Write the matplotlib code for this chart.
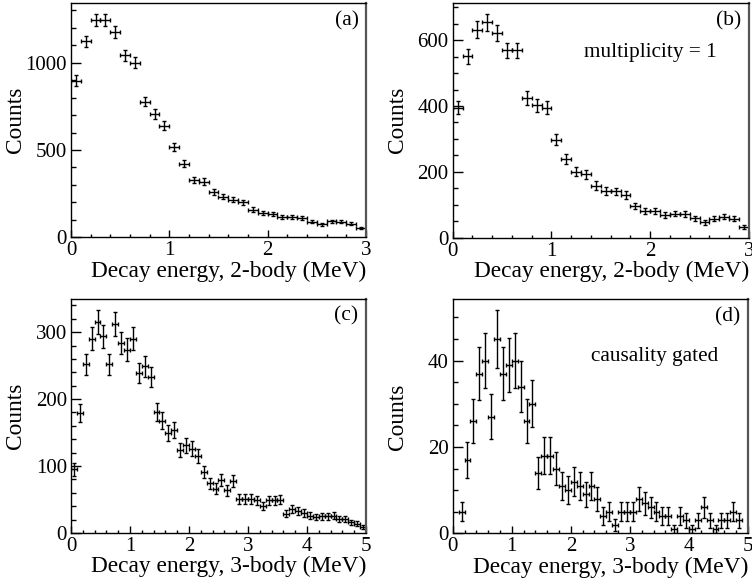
import numpy as np
import matplotlib
matplotlib.use("Agg")
import matplotlib.pyplot as plt
from matplotlib.ticker import MultipleLocator

plt.rcParams['font.family'] = ['Liberation Serif', 'DejaVu Serif']

# ---- data (counts per 0.1 MeV bin) ----
bin_width = 0.1

counts_a = [897, 1122, 1244, 1244, 1177, 1042, 1000, 777, 706, 639,
            515, 422, 328, 319, 258, 233, 214, 200, 158, 141,
            132, 115, 118, 109, 90, 74, 92, 90, 78, 53]

counts_b = [395, 551, 632, 655, 622, 569, 569, 425, 402, 394,
            298, 238, 200, 192, 158, 141, 140, 129, 95, 80,
            81, 68, 73, 72, 58, 46, 57, 63, 57, 33]

counts_c = [95, 179, 252, 290, 315, 294, 252, 312, 284, 274,
            290, 239, 249, 233, 181, 168, 149, 154, 124, 131,
            126, 115, 91, 74, 66, 79, 64, 78, 51, 51,
            51, 49, 40, 49, 49, 50, 29, 36, 33, 30,
            26, 24, 25, 25, 26, 21, 21, 16, 14, 9]

counts_d = [0, 5, 17, 26, 37, 40, 27, 45, 37, 39,
            40, 34, 26, 30, 14, 18, 18, 15, 11, 10,
            12, 11, 9, 11, 8, 4, 5, 2, 5, 5,
            5, 8, 7, 6, 5, 4, 4, 1, 4, 3,
            1, 3, 6, 3, 1, 3, 3, 5, 3, 0]

panel_labels = ["(a)", "(b)", "(c)", "(d)"]
xlabels = ["Decay energy, 2-body (MeV)", "Decay energy, 2-body (MeV)",
           "Decay energy, 3-body (MeV)", "Decay energy, 3-body (MeV)"]
ylabel = "Counts"
notes = {1: "multiplicity = 1", 3: "causality gated"}

panels = [
    dict(counts=counts_a, xmax=3, ymax=1342, ymaj=500, ymin=100),
    dict(counts=counts_b, xmax=3, ymax=713, ymaj=200, ymin=50),
    dict(counts=counts_c, xmax=5, ymax=350, ymaj=100, ymin=20),
    dict(counts=counts_d, xmax=5, ymax=54.2, ymaj=20, ymin=5),
]

positions = [
    [0.0944, 0.5909, 0.3923, 0.4040],
    [0.6020, 0.5905, 0.3940, 0.4043],
    [0.0944, 0.0810, 0.3923, 0.4041],
    [0.6020, 0.0805, 0.3927, 0.4034],
]
note_pos = {1: (0.443, 0.771), 3: (0.468, 0.738)}

fig = plt.figure(figsize=(7.52, 5.80), dpi=100)

for i, p in enumerate(panels):
    ax = fig.add_axes(positions[i])
    c = np.asarray(p["counts"], dtype=float)
    x = (np.arange(len(c)) + 0.5) * bin_width
    keep = c > 0
    ax.errorbar(x[keep], c[keep], xerr=bin_width / 2, yerr=np.sqrt(c[keep]),
                fmt='none', ecolor='black', elinewidth=1.0,
                capsize=1.2, capthick=1.0)
    ax.set_xlim(0, p["xmax"])
    ax.set_ylim(0, p["ymax"])
    ax.xaxis.set_major_locator(MultipleLocator(1))
    ax.xaxis.set_minor_locator(MultipleLocator(0.2))
    ax.yaxis.set_major_locator(MultipleLocator(p["ymaj"]))
    ax.yaxis.set_minor_locator(MultipleLocator(p["ymin"]))
    ax.tick_params(axis='both', which='both', direction='in',
                   top=False, right=False, labelsize=15, width=1.0)
    ax.tick_params(axis='y', which='major', length=7, pad=3)
    ax.tick_params(axis='y', which='minor', length=3.6)
    ax.tick_params(axis='x', which='major', length=5, pad=3)
    ax.tick_params(axis='x', which='minor', length=2.5)
    for s in ax.spines.values():
        s.set_linewidth(1.0)
        s.set_color('black')
    ax.spines['right'].set_color('#555555')
    ax.spines['right'].set_linewidth(1.6)
    ax.set_xlabel(xlabels[i], fontsize=16.8, loc='right', labelpad=0)
    ax.set_ylabel(ylabel, fontsize=16.8)
    ax.yaxis.set_label_coords(-0.152, 0.5)
    ax.text(0.975, 0.905, panel_labels[i], transform=ax.transAxes,
            ha='right', va='baseline', fontsize=15.5)
    if i in notes:
        nx, ny = note_pos[i]
        ax.text(nx, ny, notes[i], transform=ax.transAxes,
                ha='left', va='baseline', fontsize=15.3)

fig.savefig("out.png", dpi=100)
